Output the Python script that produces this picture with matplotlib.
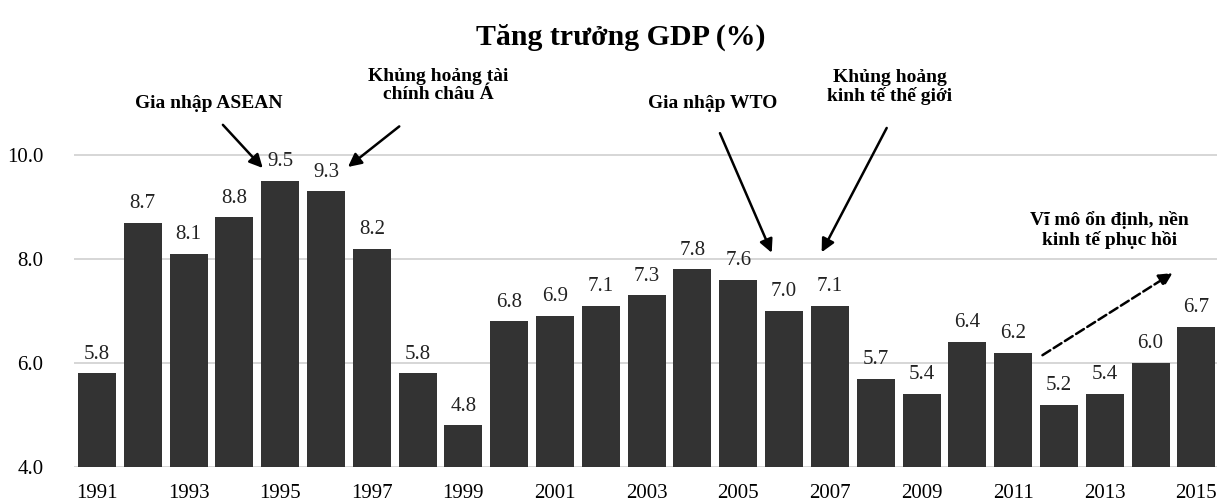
import matplotlib.pyplot as plt

# Dữ liệu
years = list(range(1991, 2016))
gdp = [5.8, 8.7, 8.1, 8.8, 9.5, 9.3, 8.2, 5.8, 4.8, 6.8, 6.9, 7.1, 7.3,
       7.8, 7.6, 7.0, 7.1, 5.7, 5.4, 6.4, 6.2, 5.2, 5.4, 6.0, 6.7]
yticks = [4.0, 6.0, 8.0, 10.0]
xtick_years = years[::2]

# Chú thích: (văn bản, vị trí chữ, điểm đầu mũi tên, điểm cuối mũi tên, nét đứt?)
notes = [
    ("Gia nhập ASEAN", (1993.45, 11.0), (1993.75, 10.58), (1994.62, 9.75), False),
    ("Khủng hoảng tài\nchính châu Á", (1998.45, 11.33), (1997.6, 10.55), (1996.48, 9.77), False),
    ("Gia nhập WTO", (2004.45, 11.0), (2004.6, 10.42), (2005.73, 8.12), False),
    ("Khủng hoảng\nkinh tế thế giới", (2008.3, 11.31), (2008.24, 10.52), (2006.82, 8.13), False),
    ("Vĩ mô ổn định, nền\nkinh tế phục hồi", (2013.1, 8.56), (2011.64, 6.15), (2014.48, 7.73), True),
]

plt.rcParams['font.family'] = ['Liberation Serif', 'DejaVu Serif']

fig = plt.figure(figsize=(12.17, 5.01), dpi=100)
ax = fig.add_axes([74 / 1217, 34 / 501, 1 - 74 / 1217, 390 / 501])

ax.bar(years, gdp, width=0.83, color='#333333', zorder=2)

# Nhãn giá trị
for x, v in zip(years, gdp):
    ax.annotate(f"{v:.1f}", (x, v), xytext=(0, 7), textcoords='offset points',
                ha='center', va='bottom', fontsize=15, color='#222222')

ax.set_xlim(1990.5, 2015.45)
ax.set_ylim(4.0, 11.5)
ax.set_yticks(yticks)
ax.set_yticklabels([f"{t:.1f}" for t in yticks], fontsize=15)
ax.set_xticks(xtick_years)
ax.set_xticklabels([str(y) for y in xtick_years], fontsize=15)
ax.tick_params(axis='both', length=0)
ax.tick_params(axis='x', pad=12)
ax.tick_params(axis='y', pad=22)
ax.yaxis.grid(True, color='#d0d0d0', linewidth=1.2, zorder=0)
ax.set_axisbelow(True)
for s in ax.spines.values():
    s.set_visible(False)

# Chú thích và mũi tên
for text, tpos, start, end, dashed in notes:
    ax.text(tpos[0], tpos[1], text, ha='center', va='center', fontsize=14,
            fontweight='bold', linespacing=1.1, clip_on=False)
    ax.annotate('', xy=end, xytext=start, annotation_clip=False,
                arrowprops=dict(arrowstyle='-|>', color='black', lw=1.8,
                                linestyle='--' if dashed else '-',
                                mutation_scale=20, shrinkA=0, shrinkB=0))

fig.text(0.51, 0.925, "Tăng trưởng GDP (%)", ha='center', va='center',
         fontsize=21.5, fontweight='bold')

fig.savefig('out.png', dpi=100)
